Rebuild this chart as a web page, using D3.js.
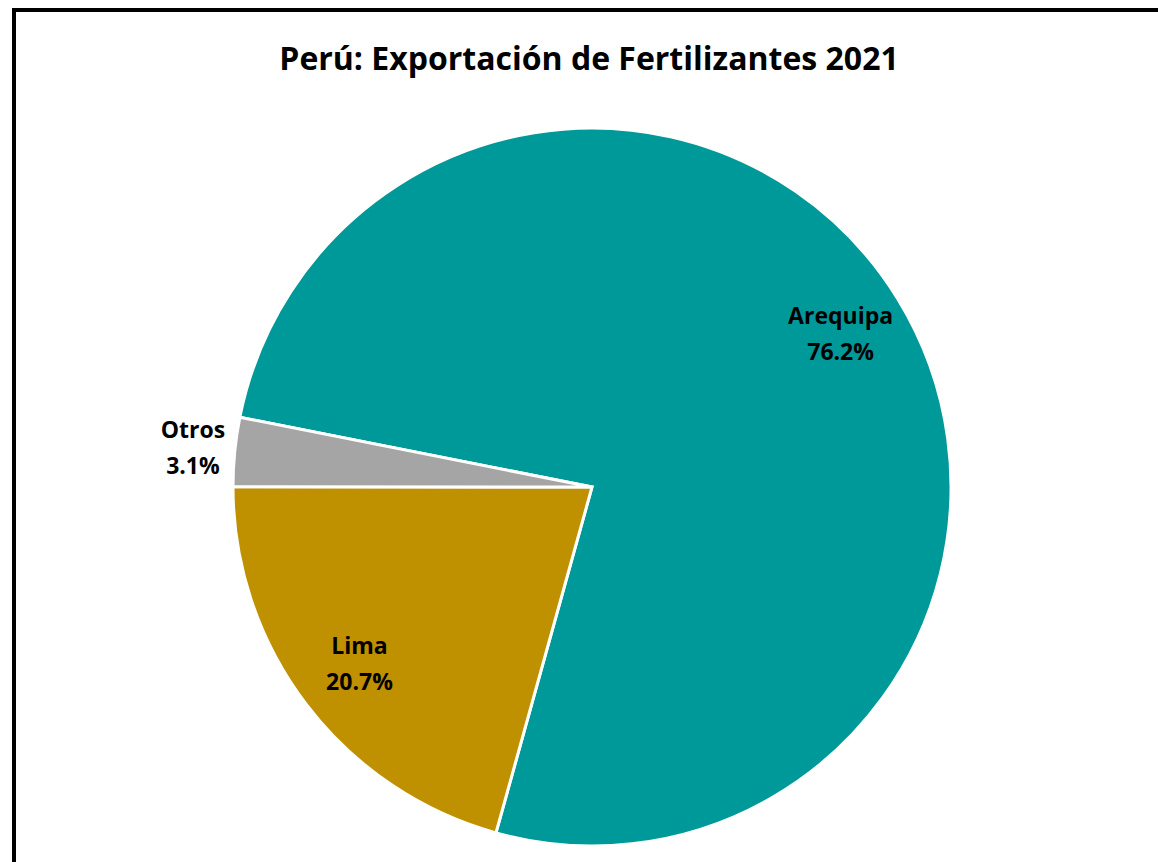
<!DOCTYPE html>
<html>
<head>
  <meta charset="UTF-8">
  <title>Perú: Exportación de Fertilizantes 2021</title>
  <style>
    html, body { margin: 0; padding: 0; background: #fff; overflow: hidden; }
    .label { font-family: "Open Sans", Lato, sans-serif; font-weight: bold; fill: #000; text-anchor: middle; }
  </style>
</head>
<body>
  <div id="chart"></div>

  <script src="https://cdn.jsdelivr.net/npm/d3@7/dist/d3.min.js"></script>
  <script>
    // Data
    const regions = ["Arequipa", "Lima", "Otros"];
    const shares = [76.2, 20.7, 3.1];
    const colors = ["#009999", "#BF9000", "#A5A5A5"];
    const title = "Perú: Exportación de Fertilizantes 2021";

    const width = 1158, height = 862;
    const cx = 592, cy = 487, radius = 359;
    // first slice starts at -78.8 degrees (Excel "angle of first slice")
    const offset = -78.8 * Math.PI / 180;

    const svg = d3.select("#chart").append("svg")
      .attr("width", width)
      .attr("height", height);

    // chart border (runs past the right and bottom edges)
    svg.append("rect")
      .attr("x", 14).attr("y", 10)
      .attr("width", width + 20).attr("height", height + 20)
      .attr("fill", "#fff")
      .attr("stroke", "#000")
      .attr("stroke-width", 4);

    svg.append("text")
      .attr("class", "label")
      .attr("x", 589).attr("y", 70)
      .style("font-size", "32px")
      .text(title);

    const data = regions.map((r, i) => ({ name: r, value: shares[i], color: colors[i] }));

    const pie = d3.pie()
      .sort(null)
      .value(d => d.value)
      .startAngle(offset)
      .endAngle(offset + 2 * Math.PI);

    const arc = d3.arc().innerRadius(0).outerRadius(radius);
    const inner = d3.arc().innerRadius(292).outerRadius(292);
    const outer = d3.arc().innerRadius(401).outerRadius(401);

    const g = svg.append("g").attr("transform", `translate(${cx},${cy})`);
    const arcs = pie(data);

    g.selectAll("path")
      .data(arcs)
      .enter()
      .append("path")
      .attr("d", arc)
      .attr("fill", d => d.data.color)
      .attr("stroke", "#fff")
      .attr("stroke-width", 3)
      .attr("stroke-linejoin", "miter");

    const lbl = g.selectAll("g.lbl")
      .data(arcs)
      .enter()
      .append("g")
      .attr("class", "lbl")
      .attr("transform", d => {
        const c = d.data.value < 5 ? outer.centroid(d) : inner.centroid(d);
        return `translate(${c[0]},${c[1]})`;
      });

    lbl.append("text")
      .attr("class", "label")
      .attr("y", -10)
      .style("font-size", "23px")
      .text(d => d.data.name);

    lbl.append("text")
      .attr("class", "label")
      .attr("y", 26)
      .style("font-size", "23px")
      .text(d => d.data.value.toFixed(1) + "%");
  </script>
</body>
</html>
